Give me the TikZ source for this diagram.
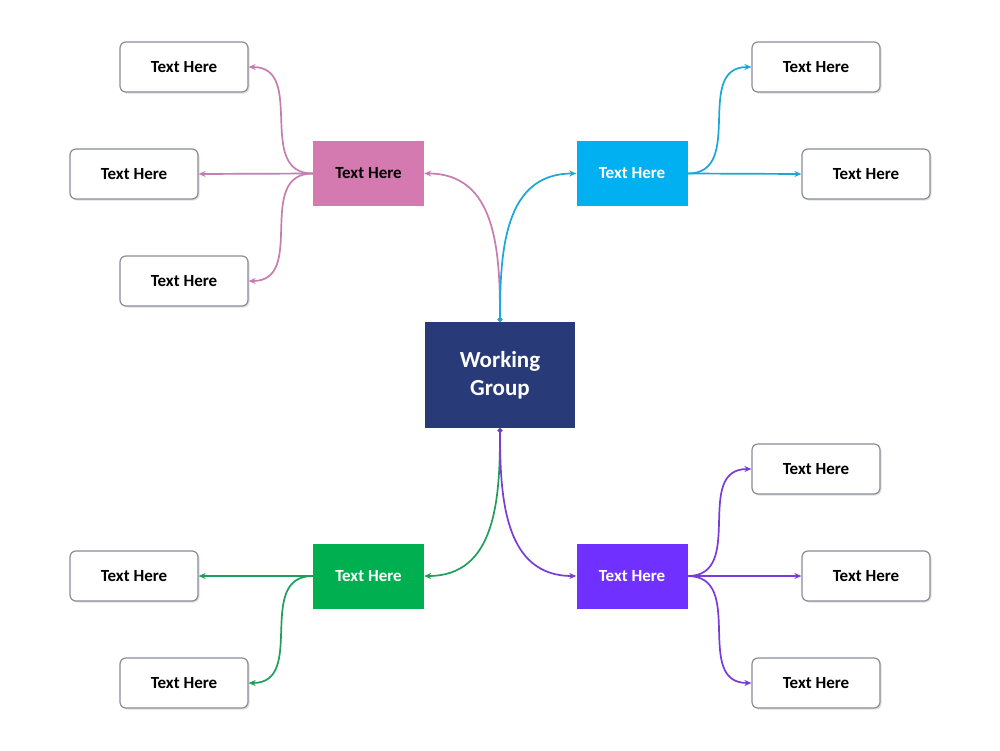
\documentclass[tikz,border=0pt]{standalone}
\usepackage{fontspec}
\setmainfont{Carlito}
\usetikzlibrary{arrows.meta,shadows}
\definecolor{navy}{HTML}{283B78}
\definecolor{pinkbox}{HTML}{D47AB0}
\definecolor{pinkline}{HTML}{C77DB0}
\definecolor{cyanbox}{HTML}{00B0F0}
\definecolor{cyanline}{HTML}{1AA8D8}
\definecolor{greenbox}{HTML}{00B050}
\definecolor{greenline}{HTML}{1F9E5C}
\definecolor{purplebox}{HTML}{7030FF}
\definecolor{purpleline}{HTML}{7A3CD8}
\definecolor{boxborder}{HTML}{8A8C9A}
\tikzset{
  txt/.style={font=\fontsize{17}{19}\selectfont\bfseries},
  leaf/.style={txt, draw=boxborder, line width=1.2pt, rounded corners=6pt, fill=white,
    minimum width=128pt, minimum height=50pt, inner sep=0pt,
    drop shadow={shadow xshift=1.5pt, shadow yshift=-1.5pt, opacity=0.25, fill=gray}},
  branch/.style={txt, minimum width=111pt, minimum height=65pt, inner sep=0pt},
  hub/.style={font=\fontsize{23}{28}\selectfont\bfseries, text=white, fill=navy,
    minimum width=150pt, minimum height=106pt, align=center, inner sep=0pt},
  conn/.style={line width=1.7pt, -{Stealth[length=7pt,width=6pt]}},
  hubconn/.style={line width=1.7pt, {Circle[length=4.5pt]}-{Stealth[length=7pt,width=6pt]}},
}
\begin{document}
\begin{tikzpicture}[x=1pt,y=-1pt]
\useasboundingbox (0,0) rectangle (1000,750);
\fill[white] (0,0) rectangle (1000,750);

\node[hub] (hub) at (500,375) {Working\\Group};

\node[branch, fill=pinkbox, text=black] (pk) at (368.5,173.5) {Text Here};
\node[branch, fill=cyanbox, text=white] (cy) at (632,173.5) {Text Here};
\node[branch, fill=greenbox, text=white] (gr) at (368.5,576) {Text Here};
\node[branch, fill=purplebox, text=white] (pu) at (632,576) {Text Here};

\node[leaf] (pk1) at (184,67) {Text Here};
\node[leaf] (pk2) at (134,174) {Text Here};
\node[leaf] (pk3) at (184,281) {Text Here};
\node[leaf] (cy1) at (816,67) {Text Here};
\node[leaf] (cy2) at (866,174) {Text Here};
\node[leaf] (gr1) at (134,576) {Text Here};
\node[leaf] (gr2) at (184,683) {Text Here};
\node[leaf] (pu1) at (816,469) {Text Here};
\node[leaf] (pu2) at (866,576) {Text Here};
\node[leaf] (pu3) at (816,683) {Text Here};

% hub to branches
\draw[hubconn, pinkline] (hub.north) to[out=90,in=0,looseness=1.1] (pk.east);
\draw[hubconn, cyanline] (hub.north) to[out=90,in=180,looseness=1.1] (cy.west);
\draw[hubconn, greenline] (hub.south) to[out=-90,in=0,looseness=1.1] (gr.east);
\draw[hubconn, purpleline] (hub.south) to[out=-90,in=180,looseness=1.1] (pu.west);

% pink leaves
\draw[conn, pinkline] (pk.west) to[out=180,in=0,looseness=1.2] (pk1.east);
\draw[conn, pinkline] (pk.west) -- (pk2.east);
\draw[conn, pinkline] (pk.west) to[out=180,in=0,looseness=1.2] (pk3.east);
% cyan leaves
\draw[conn, cyanline] (cy.east) to[out=0,in=180,looseness=1.2] (cy1.west);
\draw[conn, cyanline] (cy.east) -- (cy2.west);
% green leaves
\draw[conn, greenline] (gr.west) -- (gr1.east);
\draw[conn, greenline] (gr.west) to[out=180,in=0,looseness=1.2] (gr2.east);
% purple leaves
\draw[conn, purpleline] (pu.east) to[out=0,in=180,looseness=1.2] (pu1.west);
\draw[conn, purpleline] (pu.east) -- (pu2.west);
\draw[conn, purpleline] (pu.east) to[out=0,in=180,looseness=1.2] (pu3.west);
\end{tikzpicture}
\end{document}
